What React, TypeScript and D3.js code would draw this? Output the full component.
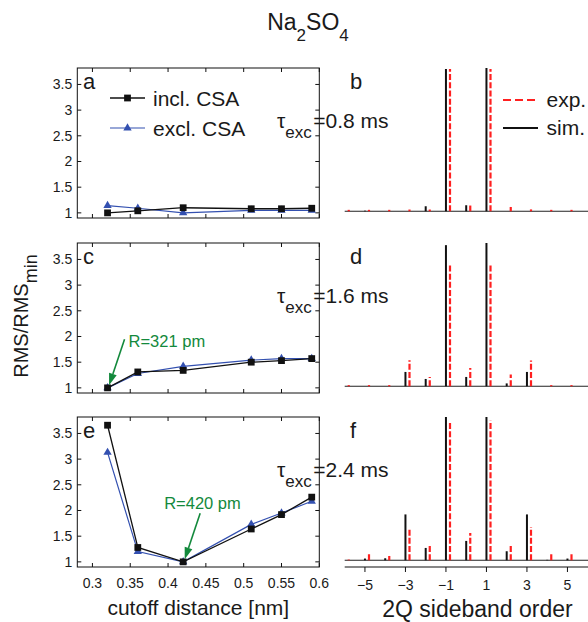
import React from "react";
import * as d3 from "d3";

// ---- data ----
const cutoff = [0.32, 0.36, 0.42, 0.51, 0.55, 0.59];
const inclA = [1.0, 1.04, 1.1, 1.08, 1.08, 1.09];
const exclA = [1.14, 1.09, 1.0, 1.05, 1.05, 1.05];
const inclC = [1.0, 1.31, 1.34, 1.5, 1.53, 1.57];
const exclC = [1.0, 1.28, 1.42, 1.54, 1.57, 1.57];
const inclE = [3.66, 1.28, 1.0, 1.64, 1.92, 2.26];
const exclE = [3.13, 1.2, 1.0, 1.73, 1.95, 2.18];
const yTicksLeft = [1, 1.5, 2, 2.5, 3, 3.5];
const xTicksLeft = [0.3, 0.35, 0.4, 0.45, 0.5, 0.55, 0.6];

const orders = [-6, -5, -4, -3, -2, -1, 0, 1, 2, 3, 4, 5, 6];
const sim08 = [0, 0.004, 0, 0, 0.035, 0.993, 0.042, 1.0, 0, 0, 0, 0, 0];
const exp08 = [0.01, 0.01, 0.01, 0.012, 0.012, 0.993, 0.04, 0.993, 0.03, 0.013, 0.01, 0.01, 0.01];
const sim16 = [0, 0, 0, 0.1, 0.051, 0.985, 0.065, 1.0, 0.02, 0.1, 0, 0, 0];
const exp16 = [0.008, 0.008, 0.008, 0.182, 0.065, 0.85, 0.128, 0.845, 0.082, 0.18, 0.008, 0.008, 0.008];
const sim24 = [0, 0.012, 0.014, 0.32, 0.086, 1.0, 0.135, 1.0, 0.063, 0.32, 0.003, 0.012, 0];
const exp24 = [0.005, 0.058, 0.03, 0.229, 0.105, 0.962, 0.191, 0.976, 0.112, 0.233, 0.042, 0.054, 0.01];
const xTicksRight = [-5, -3, -1, 1, 3, 5];
const tauLabels = ["=0.8 ms", "=1.6 ms", "=2.4 ms"];
const leftLetters = ["a", "c", "e"];
const rightLetters = ["b", "d", "f"];
const arrowNotes = [
  { panel: 1, x: 0.32, y: 1.0, text: "R=321 pm" },
  { panel: 2, x: 0.42, y: 1.0, text: "R=420 pm" },
];

// ---- layout ----
const W = 588;
const H = 622;
const tops = [68, 243, 417];
const PH = 150;
const LX0 = 77.3;
const LX1 = 319.3;
const RX0 = 344.7;
const RX1 = 587.7;
const FONT = "'Liberation Sans', Arial, Helvetica, sans-serif";
const BLUE = "#3350b0";
const RED = "#ff2020";
const GREEN = "#13893c";
const TXT = "#1a1a1a";

const xL = d3.scaleLinear().domain([0.28, 0.6]).range([LX0, LX1]);
const xR = d3.scaleLinear().domain([-6, 6]).range([RX0, RX1]);

const leftSeries = [
  [inclA, exclA],
  [inclC, exclC],
  [inclE, exclE],
];
const rightSeries = [
  [sim08, exp08],
  [sim16, exp16],
  [sim24, exp24],
];

const sq = d3.symbol(d3.symbolSquare, 46)();
const tri = d3.symbol(d3.symbolTriangle, 30)();

function LeftPanel({ i }: { i: number }) {
  const top = tops[i];
  const y = d3.scaleLinear().domain([0.9, 3.82]).range([top + PH, top]);
  const [incl, excl] = leftSeries[i];
  const line = d3
    .line<number>()
    .x((_, k) => xL(cutoff[k]))
    .y((d) => y(d));
  const tk = 4;
  return (
    <g>
      <rect x={LX0} y={top} width={LX1 - LX0} height={PH} fill="none" stroke="#111" strokeWidth={1} />
      {xTicksLeft.map((t) => (
        <g key={"xt" + t}>
          <line x1={xL(t)} x2={xL(t)} y1={top + PH} y2={top + PH - tk} stroke="#111" />
          <line x1={xL(t)} x2={xL(t)} y1={top} y2={top + tk} stroke="#111" />
        </g>
      ))}
      {yTicksLeft.map((t) => (
        <g key={"yt" + t}>
          <line x1={LX0} x2={LX0 + tk} y1={y(t)} y2={y(t)} stroke="#111" />
          <line x1={LX1} x2={LX1 - tk} y1={y(t)} y2={y(t)} stroke="#111" />
          <text x={LX0 - 5} y={y(t)} dy="0.35em" textAnchor="end" fontSize={14} fill={TXT} fontFamily={FONT}>
            {String(t)}
          </text>
        </g>
      ))}
      {i === 2 &&
        xTicksLeft.map((t) => (
          <text key={"xl" + t} x={xL(t)} y={top + PH + 21} textAnchor="middle" fontSize={14} fill={TXT} fontFamily={FONT}>
            {String(t)}
          </text>
        ))}
      <path d={line(excl) || ""} fill="none" stroke={BLUE} strokeWidth={1.2} />
      {excl.map((v, k) => (
        <path key={"b" + k} d={tri} transform={`translate(${xL(cutoff[k])},${y(v)})`} fill={BLUE} />
      ))}
      <path d={line(incl) || ""} fill="none" stroke="#111" strokeWidth={1.3} />
      {incl.map((v, k) => (
        <path key={"k" + k} d={sq} transform={`translate(${xL(cutoff[k])},${y(v)})`} fill="#111" />
      ))}
      <text x={83} y={top + 21} fontSize={22} fill={TXT} fontFamily={FONT}>
        {leftLetters[i]}
      </text>
      {i === 0 && (
        <g fontFamily={FONT} fontSize={21} fill={TXT}>
          <line x1={110} x2={145} y1={top + 30} y2={top + 30} stroke="#111" strokeWidth={1.3} />
          <path d={sq} transform={`translate(127.5,${top + 30})`} fill="#111" />
          <text x={153} y={top + 38}>incl. CSA</text>
          <line x1={110} x2={145} y1={top + 60} y2={top + 60} stroke={BLUE} strokeWidth={1.2} />
          <path d={tri} transform={`translate(127.5,${top + 60})`} fill={BLUE} />
          <text x={153} y={top + 68}>excl. CSA</text>
        </g>
      )}
      {arrowNotes
        .filter((a) => a.panel === i)
        .map((a) => {
          const tx = xL(a.x) + 1.5;
          const ty = y(a.y) - 2.5;
          const sx = tx + 15.5;
          const sy = ty - 46;
          const ang = Math.atan2(ty - sy, tx - sx);
          const L = 12;
          const Wd = 4;
          const bx = tx - L * Math.cos(ang);
          const by = ty - L * Math.sin(ang);
          const px = -Math.sin(ang) * Wd;
          const py = Math.cos(ang) * Wd;
          return (
            <g key={a.text}>
              <line x1={sx} y1={sy} x2={bx} y2={by} stroke={GREEN} strokeWidth={1.6} />
              <path d={`M${tx},${ty}L${bx + px},${by + py}L${bx - px},${by - py}Z`} fill={GREEN} />
              <text x={sx + (i === 1 ? 4 : -36)} y={sy + (i === 1 ? 8 : -4)} fontSize={16.5} fill={GREEN} fontFamily={FONT}>
                {a.text}
              </text>
            </g>
          );
        })}
    </g>
  );
}

function RightPanel({ i }: { i: number }) {
  const top = tops[i];
  const y = d3.scaleLinear().domain([-0.047, 1.0]).range([top + PH, top]);
  const [sim, exp] = rightSeries[i];
  return (
    <g>
      <line x1={RX0} x2={W + 2} y1={y(0)} y2={y(0)} stroke="#222" strokeWidth={1.2} />
      {orders.map((n, k) => (
        <g key={"o" + n}>
          {sim[k] > 0 && <line x1={xR(n)} x2={xR(n)} y1={y(0)} y2={y(sim[k])} stroke="#111" strokeWidth={2} />}
          {exp[k] > 0 && (
            <line
              x1={xR(n + 0.2)}
              x2={xR(n + 0.2)}
              y1={y(0)}
              y2={y(exp[k])}
              stroke={RED}
              strokeWidth={2.2}
              strokeDasharray="6,2.2"
            />
          )}
        </g>
      ))}
      <text x={350} y={top + 21} fontSize={22} fill={TXT} fontFamily={FONT}>
        {rightLetters[i]}
      </text>
      <text x={277} y={top + 60} fontSize={21} fill={TXT} fontFamily={FONT}>
        τ
        <tspan dy={10} fontSize={17}>
          exc
        </tspan>
        <tspan dy={-10} dx={1.5} fontSize={21}>
          {tauLabels[i]}
        </tspan>
      </text>
      {i === 0 && (
        <g fontFamily={FONT} fontSize={21} fill={TXT}>
          <line x1={503} x2={538} y1={top + 32} y2={top + 32} stroke={RED} strokeWidth={2.2} strokeDasharray="8,4" />
          <text x={546.5} y={top + 39}>exp.</text>
          <line x1={503} x2={538} y1={top + 60} y2={top + 60} stroke="#111" strokeWidth={2} />
          <text x={546.5} y={top + 67}>sim.</text>
        </g>
      )}
      {i === 2 && (
        <g>
          <line x1={RX0} x2={W + 2} y1={top + PH} y2={top + PH} stroke="#111" strokeWidth={1.2} />
          {xTicksRight.map((t) => (
            <g key={"rt" + t}>
              <line x1={xR(t)} x2={xR(t)} y1={top + PH} y2={top + PH + 5} stroke="#111" />
              <text x={xR(t)} y={top + PH + 23} textAnchor="middle" fontSize={14} fill={TXT} fontFamily={FONT}>
                {t < 0 ? "\u2212" + Math.abs(t) : String(t)}
              </text>
            </g>
          ))}
        </g>
      )}
    </g>
  );
}

export default function App() {
  return (
    <svg
      width={W}
      height={H}
      viewBox={`0 0 ${W} ${H}`}
      style={{ position: "fixed", left: 0, top: 0, background: "#fff" }}
    >
      <rect x={0} y={0} width={W} height={H} fill="#fff" />
      <text x={308} y={30} textAnchor="middle" fontSize={23} fill={TXT} fontFamily={FONT}>
        Na
        <tspan dy={11} fontSize={17}>
          2
        </tspan>
        <tspan dy={-11} fontSize={23}>
          SO
        </tspan>
        <tspan dy={11} fontSize={17}>
          4
        </tspan>
      </text>
      {[0, 1, 2].map((i) => (
        <LeftPanel key={"l" + i} i={i} />
      ))}
      {[0, 1, 2].map((i) => (
        <RightPanel key={"r" + i} i={i} />
      ))}
      <text
        transform="translate(28,316) rotate(-90)"
        textAnchor="middle"
        fontSize={20}
        fill={TXT}
        fontFamily={FONT}
      >
        RMS/RMS
        <tspan dy={9} fontSize={18}>
          min
        </tspan>
      </text>
      <text x={198.3} y={615} textAnchor="middle" fontSize={21} fill={TXT} fontFamily={FONT}>
        cutoff distance [nm]
      </text>
      <text x={477.5} y={617} textAnchor="middle" fontSize={23} fill={TXT} fontFamily={FONT}>
        2Q sideband order
      </text>
    </svg>
  );
}
